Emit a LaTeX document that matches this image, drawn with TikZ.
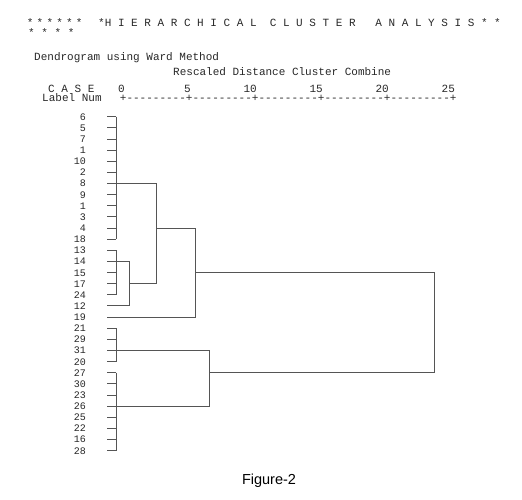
\documentclass[tikz,border=0pt]{standalone}
\usepackage{fontspec}
\usepackage{tikz}
\usetikzlibrary{positioning, calc}
\newfontfamily\spssfont{Liberation Mono}
\newfontfamily\capfont{Liberation Sans}
\definecolor{inkgray}{RGB}{40,40,40}
\definecolor{linegray}{RGB}{85,85,85}

\begin{document}
\begin{tikzpicture}[x=1pt, y=-1pt,
  spss/.style={font=\spssfont\fontsize{11}{13}\selectfont, text=inkgray,
               inner sep=0pt, anchor=base west},
  tight/.style={text height=7pt, text depth=0pt},
  caselab/.style={font=\spssfont\fontsize{10}{12}\selectfont, text=inkgray,
                  inner sep=0pt, anchor=base east},
  dendro/.style={draw=linegray, line width=0.9pt},
]
\fill[white] (0,0) rectangle (522,500);
\useasboundingbox (0,0) rectangle (522,500);

% header
\foreach \k in {0,...,5}
  \node[spss] (star\k) at ({26.7+9.8*\k},26.5) {*};
\node[spss] (title) at (98,26.5) {*H~I~E~R~A~R~C~H~I~C~A~L~~C~L~U~S~T~E~R~~~A~N~A~L~Y~S~I~S~*~*};
\node[spss] (stars2) at (28,37) {*~*~*~*};
\node[spss] (method) at (34,60.5) {Dendrogram using Ward Method};
\node[spss] (rescaled) at (173,76) {Rescaled Distance Cluster Combine};
\node[spss, tight] (case) at (48,92.5) {C~A~S~E};
\node[spss, tight] (labnum) at (42,101.5) {Label Num};
\node[spss, tight] (scale) at (118,92.5) {0~~~~~~~~~5~~~~~~~~10~~~~~~~~15~~~~~~~~20~~~~~~~~25};
\node[spss, tight, text height=6pt] (axis) at (119.7,101.5) {+\foreach \k in {1,...,5}{\foreach \j in {1,...,9}{-\kern0pt}+}};

% cases
\foreach \lab [count=\i] in {6,5,7,1,10,2,8,9,1,3,4,18,13,14,15,17,24,12,19,21,29,31,20,27,30,23,26,25,22,16,28} {
  \node[caselab] (n\i) at (86,{116.7+11.13*(\i-1)+3.5}) {\lab};
  \coordinate (t\i) at (107,{116.7+11.13*(\i-1)});
}

% join levels
\coordinate (x0) at (116,0);
\coordinate (x1) at (129,0);
\coordinate (x2) at (156.7,0);
\coordinate (x3) at (195.7,0);
\coordinate (x4) at (209,0);
\coordinate (x5) at (434,0);

% leaf ticks
\foreach \i in {1,...,6,8,9,10,11,12,13,15,16,17,20,21,23,24,25,26,28,29,30,31}
  \draw[dendro] (t\i) -- (t\i -| x0);

% trunks
\draw[dendro] (t1 -| x0) -- (t12 -| x0);
\draw[dendro] (t13 -| x0) -- (t17 -| x0);
\draw[dendro] (t20 -| x0) -- (t23 -| x0);
\draw[dendro] (t24 -| x0) -- (t31 -| x0);

% merges
\draw[dendro] (t14) -- (t14 -| x1) -- (t18 -| x1) -- (t18);
\draw[dendro] (t16 -| x1) -- (t16 -| x2);
\draw[dendro] (t7) -- (t7 -| x2) -- (t16 -| x2);
\draw[dendro] (t11 -| x2) -- (t11 -| x3) -- (t19 -| x3) -- (t19);
\draw[dendro] (t22) -- (t22 -| x4) -- (t27 -| x4) -- (t27);
\draw[dendro] (t15 -| x3) -- (t15 -| x5) -- (t24 -| x5) -- (t24 -| x4);

\node[font=\capfont\fontsize{14.5}{17}\selectfont, inner sep=0pt] (caption) at (269,481) {Figure-2};
\end{tikzpicture}
\end{document}
